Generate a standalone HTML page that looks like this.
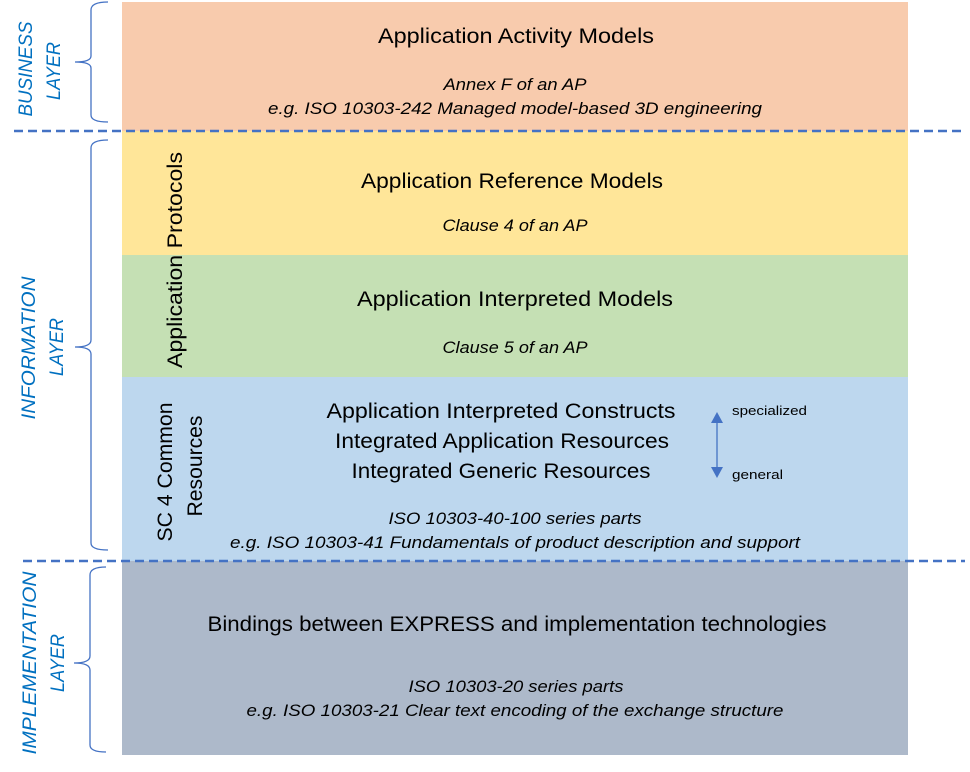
<!DOCTYPE html>
<html><head><style>
html,body{margin:0;padding:0;background:#fff;}
svg{display:block;font-family:"Liberation Sans",sans-serif;}
</style></head><body>
<svg width="970" height="772" viewBox="0 0 970 772" xmlns="http://www.w3.org/2000/svg">
<rect x="122" y="2" width="786" height="129" fill="#f8cbad"/>
<rect x="122" y="131" width="786" height="124" fill="#ffe699"/>
<rect x="122" y="255" width="786" height="122" fill="#c5e0b4"/>
<rect x="122" y="377" width="786" height="184" fill="#bdd7ee"/>
<rect x="122" y="561" width="786" height="194" fill="#adb9ca"/>
<line x1="14" y1="131" x2="962" y2="131" stroke="#4472c4" stroke-width="2.5" stroke-dasharray="9,5"/>
<line x1="23" y1="561" x2="965" y2="561" stroke="#4472c4" stroke-width="2.5" stroke-dasharray="9,5"/>
<g fill="none" stroke="#4472c4" stroke-width="1.3">
<path d="M108,2 Q91,2 91,10 L91,56 Q91,62 75,62 Q91,62 91,68 L91,115 Q91,122 108,122"/>
<path d="M108,140 Q91,140 91,148 L91,340 Q91,347 75,347 Q91,347 91,354 L91,543 Q91,550 108,550"/>
<path d="M106,567 Q90,567 90,575 L90,656 Q90,663 74,663 Q90,663 90,670 L90,745 Q90,752 106,752"/>
</g>
<g fill="#0070c0" font-style="italic" font-size="19" text-anchor="middle">
<text transform="translate(32,69) rotate(-90)" textLength="95" lengthAdjust="spacingAndGlyphs">BUSINESS</text>
<text transform="translate(60,71) rotate(-90)" textLength="58" lengthAdjust="spacingAndGlyphs">LAYER</text>
<text transform="translate(35,348) rotate(-90)" textLength="143" lengthAdjust="spacingAndGlyphs">INFORMATION</text>
<text transform="translate(63,347) rotate(-90)" textLength="58" lengthAdjust="spacingAndGlyphs">LAYER</text>
<text transform="translate(36,663) rotate(-90)" textLength="183" lengthAdjust="spacingAndGlyphs">IMPLEMENTATION</text>
<text transform="translate(64,663) rotate(-90)" textLength="58" lengthAdjust="spacingAndGlyphs">LAYER</text>
</g>
<g fill="#000" font-size="21" text-anchor="middle">
<text transform="translate(182,260) rotate(-90)" textLength="216" lengthAdjust="spacingAndGlyphs">Application Protocols</text>
<text transform="translate(172,472) rotate(-90)" textLength="139" lengthAdjust="spacingAndGlyphs">SC 4 Common</text>
<text transform="translate(202,466) rotate(-90)" textLength="101" lengthAdjust="spacingAndGlyphs">Resources</text>
<text x="516" y="43" textLength="276" lengthAdjust="spacingAndGlyphs">Application Activity Models</text>
<text x="512" y="188" textLength="302" lengthAdjust="spacingAndGlyphs">Application Reference Models</text>
<text x="515" y="306" textLength="316" lengthAdjust="spacingAndGlyphs">Application Interpreted Models</text>
<text x="501" y="418" textLength="349" lengthAdjust="spacingAndGlyphs">Application Interpreted Constructs</text>
<text x="502" y="448" textLength="334" lengthAdjust="spacingAndGlyphs">Integrated Application Resources</text>
<text x="501" y="478" textLength="299" lengthAdjust="spacingAndGlyphs">Integrated Generic Resources</text>
<text x="517" y="631" textLength="619" lengthAdjust="spacingAndGlyphs">Bindings between EXPRESS and implementation technologies</text>
</g>
<g fill="#000" font-size="16.5" font-style="italic" text-anchor="middle">
<text x="515" y="90" textLength="143" lengthAdjust="spacingAndGlyphs">Annex F of an AP</text>
<text x="515" y="114" textLength="494" lengthAdjust="spacingAndGlyphs">e.g. ISO 10303-242 Managed model-based 3D engineering</text>
<text x="515" y="231" textLength="145" lengthAdjust="spacingAndGlyphs">Clause 4 of an AP</text>
<text x="515" y="353" textLength="145" lengthAdjust="spacingAndGlyphs">Clause 5 of an AP</text>
<text x="515" y="524" textLength="253" lengthAdjust="spacingAndGlyphs">ISO 10303-40-100 series parts</text>
<text x="515" y="548" textLength="570" lengthAdjust="spacingAndGlyphs">e.g. ISO 10303-41 Fundamentals of product description and support</text>
<text x="516" y="692" textLength="215" lengthAdjust="spacingAndGlyphs">ISO 10303-20 series parts</text>
<text x="515" y="716" textLength="537" lengthAdjust="spacingAndGlyphs">e.g. ISO 10303-21 Clear text encoding of the exchange structure</text>
</g>
<line x1="717" y1="420" x2="717" y2="470" stroke="#4472c4" stroke-width="1.3"/>
<polygon points="711,423 723,423 717,412" fill="#4472c4"/>
<polygon points="711,467 723,467 717,478" fill="#4472c4"/>
<text x="732" y="415" font-size="13" fill="#000" textLength="75" lengthAdjust="spacingAndGlyphs">specialized</text>
<text x="732" y="479" font-size="13" fill="#000" textLength="51" lengthAdjust="spacingAndGlyphs">general</text>
</svg>
</body></html>
